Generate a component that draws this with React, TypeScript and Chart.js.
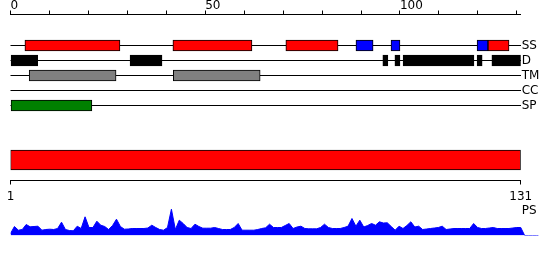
import React, { useEffect, useRef } from 'react';
import { Chart, registerables } from 'chart.js';

Chart.register(...registerables);

const FONT = "'DejaVu Sans', sans-serif";

const trackLabels = ['SS', 'D', 'TM', 'CC', 'SP'];
const ssHelix = [[3.7, 28.1], [41.7, 62.0], [70.7, 84.1], [122.6, 128.0]];
const ssStrand = [[88.7, 93.1], [97.7, 100.0], [119.8, 122.6]];
const disorder = [[0, 7.0], [30.7, 38.9], [95.6, 96.9], [98.7, 100.0], [100.8, 119.0], [119.8, 121.1], [123.6, 131.0]];
const transmembrane = [[4.8, 27.1], [41.8, 64.1]];
const coiledCoil: number[][] = [];
const signalPeptide = [[0, 20.9]];

// Top scale
const topTicks = [0, 10, 20, 30, 40, 50, 60, 70, 80, 90, 100, 110, 120, 130];
const topLabeled = [0, 50, 100];
const topMax = 131;

// Sequence bar
const seqStart = 1;
const seqEnd = 131;

// PS profile, residues 1..131
const psLabel = 'PS';
const psValues = [
  2, 9, 5.3, 6, 11, 8.7, 9, 9.3, 5.3, 6,
  6.3, 6, 7, 13.3, 6, 5, 4.7, 9.3, 7, 18.7,
  8, 8, 14.3, 10.3, 9, 6, 10, 16.3, 9, 6.3,
  6.5, 7, 7, 7, 7, 7.5, 10.3, 8, 6, 5.3,
  8, 26.3, 6, 15.3, 12, 8, 7, 11.3, 9, 7.3,
  7.3, 7.3, 8, 7, 6, 6, 6, 8, 12, 5.3,
  5.3, 5.3, 5.3, 6, 7, 7.7, 11.3, 8, 8, 8,
  10, 12, 7, 8.5, 9.3, 7, 6.7, 6.7, 6.7, 8,
  11.3, 8, 7, 7, 7, 8, 9.3, 17, 9.3, 15.3,
  8.5, 10, 12, 10.3, 13.7, 12.5, 12.7, 9, 5.3, 9.3,
  7, 10, 13.7, 8.5, 9.3, 6, 6.5, 7, 7.5, 8,
  9.3, 6, 6.5, 7, 7, 7, 7, 7, 12, 8,
  7, 7, 7.5, 8, 7, 7, 7, 7, 7.5, 8,
  8,
];
const psTail = [0, 0, 0, 0, 0];
const psMaxX = 135.5;
const psMaxY = 30;

const toBars = (ranges: number[][], track: number) =>
  ranges.map(([s, e]) => ({ x: [s, e], y: track }));

const tickFont = { family: FONT, size: 12 };

const zeroPad = (s: any) => {
  s.paddingTop = 0;
  s.paddingBottom = 0;
  s.paddingLeft = 0;
  s.paddingRight = 0;
};

export default function App() {
  const c1 = useRef<HTMLCanvasElement>(null);
  const c2 = useRef<HTMLCanvasElement>(null);
  const c3 = useRef<HTMLCanvasElement>(null);

  useEffect(() => {
    const charts: Chart[] = [];

    charts.push(
      new Chart(c1.current!, {
        type: 'bar',
        data: {
          datasets: [
            { data: toBars(ssHelix, 1), backgroundColor: '#ff0000' },
            { data: toBars(ssStrand, 1), backgroundColor: '#0000ff' },
            { data: toBars(disorder, 2), backgroundColor: '#000000' },
            { data: toBars(transmembrane, 3), backgroundColor: '#808080' },
            { data: toBars(coiledCoil, 4), backgroundColor: '#ffff00' },
            { data: toBars(signalPeptide, 5), backgroundColor: '#008000' },
          ] as any,
        },
        options: {
          animation: false,
          responsive: false,
          indexAxis: 'y',
          layout: { padding: { left: 10.5, right: 0, top: 0, bottom: 0 } },
          plugins: { legend: { display: false }, tooltip: { enabled: false } },
          datasets: {
            bar: {
              grouped: false,
              barThickness: 11,
              borderWidth: 1,
              borderColor: '#000',
              borderSkipped: false,
            },
          },
          scales: {
            x: {
              type: 'linear',
              position: 'top',
              min: 0,
              max: topMax,
              offset: false,
              afterBuildTicks: (s: any) => {
                s.ticks = topTicks.map((v) => ({ value: v }));
              },
              afterFit: (s: any) => {
                s.height = 14.5;
                zeroPad(s);
              },
              ticks: {
                autoSkip: false,
                maxRotation: 0,
                align: 'start',
                padding: 0,
                color: '#000',
                font: { ...tickFont, lineHeight: 0.8 },
                callback: (v: any) => (topLabeled.includes(Number(v)) ? String(v) : ''),
              },
              grid: { drawOnChartArea: false, drawTicks: true, tickLength: 4, color: '#000', lineWidth: 1, offset: false },
              border: { display: true, color: '#000', width: 1 },
            },
            y: {
              type: 'linear',
              position: 'right',
              reverse: true,
              offset: false,
              min: -1.0667,
              max: 5.9667,
              afterBuildTicks: (s: any) => {
                s.ticks = trackLabels.map((_, i) => ({ value: i + 1 }));
              },
              afterFit: (s: any) => {
                s.width = 29.3;
                zeroPad(s);
              },
              ticks: {
                autoSkip: false,
                padding: 1,
                color: '#000',
                font: tickFont,
                callback: (v: any) => trackLabels[Number(v) - 1] ?? '',
              },
              grid: { drawTicks: false, color: '#000', lineWidth: 1, offset: false },
              border: { display: false },
            },
          },
        } as any,
      })
    );

    charts.push(
      new Chart(c2.current!, {
        type: 'bar',
        data: {
          datasets: [
            {
              data: [{ x: [seqStart, seqEnd], y: 0.5 }],
              backgroundColor: '#ff0000',
              borderColor: '#000',
              borderWidth: 1,
              borderSkipped: false,
              barThickness: 20,
            },
          ] as any,
        },
        options: {
          animation: false,
          responsive: false,
          indexAxis: 'y',
          layout: { padding: { left: 10.5, right: 29.3, top: 9.5, bottom: 0 } },
          plugins: { legend: { display: false }, tooltip: { enabled: false } },
          scales: {
            x: {
              type: 'linear',
              position: 'bottom',
              min: seqStart,
              max: seqEnd,
              afterBuildTicks: (s: any) => {
                s.ticks = [{ value: seqStart }, { value: seqEnd }];
              },
              afterFit: (s: any) => {
                s.height = 29.5;
                zeroPad(s);
              },
              ticks: { autoSkip: false, maxRotation: 0, padding: 5, color: '#000', font: tickFont },
              grid: { drawOnChartArea: false, drawTicks: true, tickLength: 4, color: '#000', lineWidth: 1 },
              border: { display: true, color: '#000', width: 1 },
            },
            y: { type: 'linear', min: 0, max: 1, offset: false, display: false },
          },
        } as any,
      })
    );

    const psPoints = [
      ...psValues.map((v, i) => ({ x: i + 1, y: v })),
      ...psTail.map((v, i) => ({ x: psValues.length + 1 + i, y: v })),
    ];

    charts.push(
      new Chart(c3.current!, {
        type: 'line',
        data: {
          datasets: [
            {
              data: psPoints,
              fill: 'origin',
              backgroundColor: '#0000ff',
              borderColor: '#0000ff',
              borderWidth: 1,
              pointRadius: 0,
              tension: 0,
            },
          ],
        },
        options: {
          animation: false,
          responsive: false,
          layout: { padding: { left: 10.5, right: 11.6, top: 5.5, bottom: 9.5 } },
          plugins: { legend: { display: false }, tooltip: { enabled: false } },
          scales: {
            x: { type: 'linear', min: seqStart, max: psMaxX, display: false },
            y: { type: 'linear', min: 0, max: psMaxY, display: false },
          },
        } as any,
        plugins: [
          {
            id: 'psLabel',
            afterDraw(chart: any) {
              const { ctx } = chart;
              const xs = chart.scales.x;
              const ys = chart.scales.y;
              ctx.save();
              ctx.font = `12px ${FONT}`;
              ctx.fillStyle = '#000';
              ctx.textAlign = 'left';
              ctx.textBaseline = 'middle';
              ctx.fillText(psLabel, xs.getPixelForValue(seqEnd) + 1, ys.getPixelForValue(24.5));
              ctx.restore();
            },
          },
        ],
      })
    );

    return () => charts.forEach((c) => c.destroy());
  }, []);

  const cs = (top: number): React.CSSProperties => ({ position: 'absolute', left: 0, top, display: 'block' });

  return (
    <div style={{ position: 'fixed', left: 0, top: 0, width: 550, height: 260, background: '#fff' }}>
      <canvas ref={c1} width={550} height={120} style={cs(0)} />
      <canvas ref={c2} width={550} height={80} style={cs(130)} />
      <canvas ref={c3} width={550} height={45} style={cs(200)} />
    </div>
  );
}
